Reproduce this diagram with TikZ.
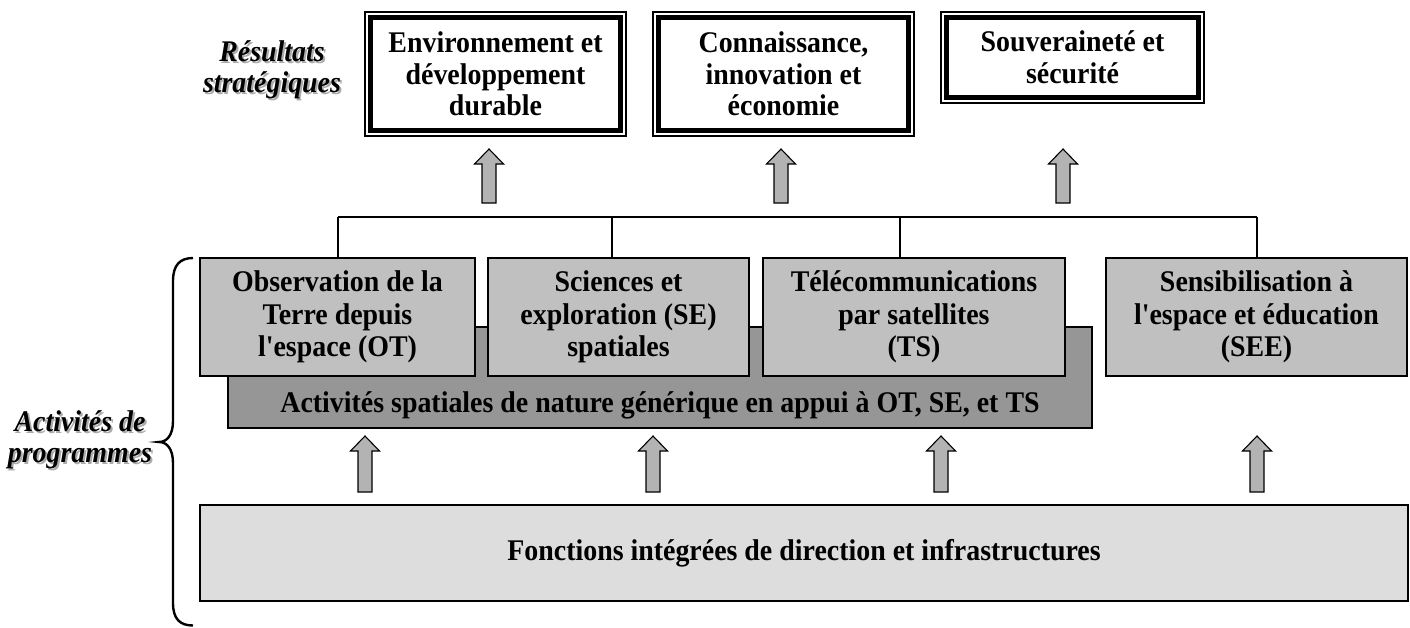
\documentclass[tikz,border=0pt]{standalone}
\usepackage{fontspec}
\setmainfont{Liberation Serif}[FakeStretch=0.93, Ligatures=TeXOff]
\usetikzlibrary{calc}
\definecolor{actgray}{HTML}{C0C0C0}
\definecolor{bargray}{HTML}{969696}
\definecolor{basegray}{HTML}{DDDDDD}
\definecolor{arrgray}{HTML}{B3B3B3}
\definecolor{shadowgray}{HTML}{ABABAB}
\newcommand{\blockup}[3]{% x, ytop, ybottom
  \draw[blockarrow] (#1-7,#3) -- (#1-7,#2+15) -- (#1-14.5,#2+15) -- (#1,#2)
    -- (#1+14.5,#2+15) -- (#1+7,#2+15) -- (#1+7,#3) -- cycle;}
\begin{document}
\begin{tikzpicture}[x=1pt,y=-1pt,
  every node/.style={inner sep=0pt, outer sep=0pt},
  txt/.style={font=\fontsize{30}{31.5}\selectfont\bfseries, align=center},
  acttxt/.style={font=\fontsize{30}{32.5}\selectfont\bfseries, align=center},
  lbl/.style={font=\fontsize{30}{31}\selectfont\bfseries\itshape, align=center},
  outcome/.style={draw, line width=1.1pt, fill=white, txt},
  actbox/.style={draw, line width=1.5pt, fill=actgray, acttxt},
  barbox/.style={draw, line width=1.5pt, fill=bargray},
  basebox/.style={draw, line width=1.5pt, fill=basegray, txt},
  busline/.style={line width=1.1pt},
  blockarrow/.style={draw, line width=1.1pt, fill=arrgray, line join=miter},
  thickframe/.style={line width=4.7pt}]
\useasboundingbox (0,0) rectangle (1410,627);

% left labels (with shadow)
\node[lbl, text=shadowgray] (resS) at (274,72) {Résultats\\stratégiques};
\node[lbl] (res) at (272,70) {Résultats\\stratégiques};
\node[lbl, text=shadowgray] (actS) at (82,442) {Activités de\\programmes};
\node[lbl] (act) at (80,440) {Activités de\\programmes};

% strategic outcomes
\node[outcome, minimum width=261, minimum height=124] (o1) at (495.5,74)
  {Environnement et\\développement\\durable};
\node[outcome, minimum width=261, minimum height=124] (o2) at (783.5,74)
  {Connaissance,\\innovation et\\économie};
\node[outcome, minimum width=263, minimum height=91] (o3) at (1072.5,57.5)
  {Souveraineté et\\sécurité};
\foreach \o in {o1,o2,o3}
  \draw[thickframe] ($(\o.north west)+(5.3,5.3)$) rectangle ($(\o.south east)+(-5.3,-5.3)$);

% top arrows
\blockup{489}{149}{203}
\blockup{781}{149}{203}
\blockup{1063}{149}{203}

% generic bar (behind)
\node[barbox, minimum width=864, minimum height=101] (bar) at (660,377.5) {};
\node[txt, anchor=base] (bartxt) at (660,412)
  {Activités spatiales de nature générique en appui à OT, SE, et TS};

% program activities
\node[actbox, minimum width=275, minimum height=118] (ot) at (337.5,317)
  {Observation de la\\Terre depuis\\l'espace (OT)};
\node[actbox, minimum width=261, minimum height=118] (se) at (618.5,317)
  {Sciences et\\exploration (SE)\\spatiales};
\node[actbox, minimum width=302, minimum height=118] (ts) at (914,317)
  {Télécommunications\\par satellites\\(TS)};
\node[actbox, minimum width=301, minimum height=118] (see) at (1256.5,317)
  {Sensibilisation à\\l'espace et éducation\\(SEE)};

% bus connector
\coordinate (bus1) at (338,217);
\coordinate (bus2) at (612,217);
\coordinate (bus3) at (900,217);
\coordinate (bus4) at (1257,217);
\draw[busline] (bus1) -- (bus4);
\draw[busline] (bus1) -- (bus1 |- ot.north);
\draw[busline] (bus2) -- (bus2 |- se.north);
\draw[busline] (bus3) -- (bus3 |- ts.north);
\draw[busline] (bus4) -- (bus4 |- see.north);

% base box
\node[basebox, minimum width=1208, minimum height=96] (base) at (804,553)
  {Fonctions intégrées de direction et infrastructures};

% lower arrows
\blockup{365}{436}{492}
\blockup{653}{436}{492}
\blockup{941}{436}{492}
\blockup{1257}{436}{492}

% brace
\draw[line width=2.4pt]
  (193,258) .. controls (180,258) and (173,265) .. (173,281)
  -- (173,421) .. controls (173,435) and (167,442) .. (159,442)
  .. controls (167,442) and (173,449) .. (173,463)
  -- (173,603) .. controls (173,619) and (180,625.5) .. (193,625.5);
\end{tikzpicture}
\end{document}
